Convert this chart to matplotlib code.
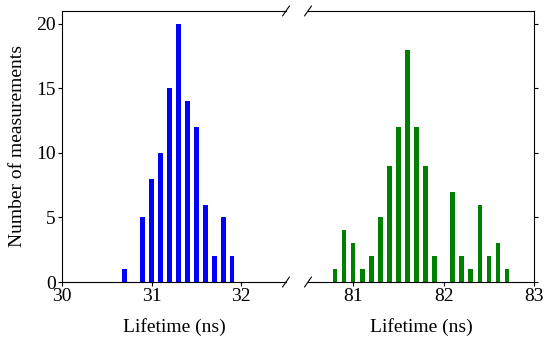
import matplotlib.pyplot as plt

# Lifetime histograms (bin centre in ns, counts)
short_lifetime = [30.7, 30.9, 31.0, 31.1, 31.2, 31.3, 31.4, 31.5, 31.6, 31.7, 31.8, 31.9]
short_counts = [1, 5, 8, 10, 15, 20, 14, 12, 6, 2, 5, 2]

long_lifetime = [80.8, 80.9, 81.0, 81.1, 81.2, 81.3, 81.4, 81.5, 81.6, 81.7,
                 81.8, 81.9, 82.1, 82.2, 82.3, 82.4, 82.5, 82.6, 82.7]
long_counts = [1, 4, 3, 1, 2, 5, 9, 12, 18, 12, 9, 2, 7, 2, 1, 6, 2, 3, 1]

plt.rcParams['font.family'] = ['Liberation Serif', 'DejaVu Serif']
plt.rcParams['font.size'] = 14

fig = plt.figure(figsize=(5.5, 3.42), dpi=100)
ax1 = fig.add_axes([0.1127, 0.1754, 0.4073, 0.7926])
ax2 = fig.add_axes([0.56, 0.1754, 0.411, 0.7926], sharey=ax1)

ax1.bar(short_lifetime, short_counts, width=0.05, color='#0000ff')
ax2.bar(long_lifetime, long_counts, width=0.05, color='#008000')

ax1.set_xlim(30, 32.5)
ax2.set_xlim(80.5, 83)
ax1.set_ylim(0, 21)
ax1.set_xticks([30, 31, 32])
ax2.set_xticks([81, 82, 83])
ax1.set_yticks([0, 5, 10, 15, 20])

ax1.spines['right'].set_visible(False)
ax2.spines['left'].set_visible(False)
ax1.tick_params(direction='out', length=3, width=0.8, pad=1.5, labelsize=14)
ax2.tick_params(direction='out', length=3, width=0.8, pad=1.5, labelsize=14,
                left=False, labelleft=False, right=True)

ax1.set_xlabel('Lifetime (ns)', fontsize=14, labelpad=9)
ax2.set_xlabel('Lifetime (ns)', fontsize=14, labelpad=9)
ax1.set_ylabel('Number of measurements', fontsize=14, labelpad=7)

# break marks
d = 0.015
kw = dict(color='k', clip_on=False, linewidth=0.8)
ax1.plot((1 - d, 1 + d), (-d * 1.2, d * 1.2), transform=ax1.transAxes, **kw)
ax1.plot((1 - d, 1 + d), (1 - d * 1.2, 1 + d * 1.2), transform=ax1.transAxes, **kw)
ax2.plot((-d, d), (-d * 1.2, d * 1.2), transform=ax2.transAxes, **kw)
ax2.plot((-d, d), (1 - d * 1.2, 1 + d * 1.2), transform=ax2.transAxes, **kw)

fig.savefig('out.png', dpi=100)
